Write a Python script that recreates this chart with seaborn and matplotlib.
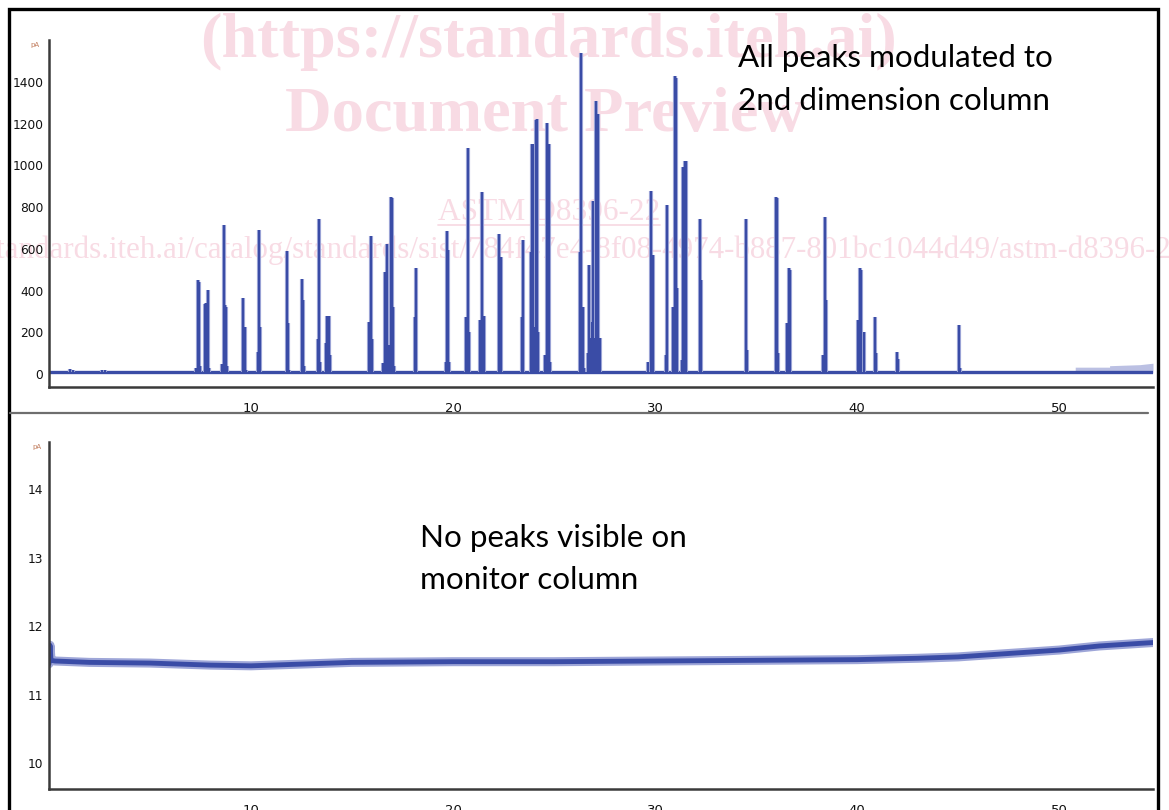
import numpy as np
import pandas as pd
import matplotlib
matplotlib.use("Agg")
import matplotlib.pyplot as plt
import seaborn as sns
from matplotlib.patches import Rectangle
from matplotlib.lines import Line2D
from matplotlib.ticker import MultipleLocator, FixedLocator

# ---------------- data ----------------
# modulated spikes of the upper (2nd dimension) trace: retention time (min), height (pA)
spike_times = [
    1.05, 1.20, 2.60, 2.75,
    7.28, 7.38, 7.43, 7.48,
    7.72, 7.77, 7.87, 7.92,
    8.56, 8.66, 8.71, 8.76, 8.81,
    9.60, 9.70, 9.75,
    10.35, 10.40, 10.45,
    11.78, 11.83, 11.88,
    12.52, 12.57, 12.62,
    13.32, 13.37, 13.42,
    13.71, 13.76, 13.86, 13.91,
    15.84, 15.89, 15.94, 15.99,
    16.53, 16.63, 16.73, 16.78, 16.83,
    16.93, 16.98, 17.03, 17.08,
    18.12, 18.17,
    19.65, 19.70, 19.75, 19.80,
    20.64, 20.72, 20.79,
    21.34, 21.44, 21.49, 21.53,
    22.28, 22.38,
    23.42, 23.47,
    23.86, 23.91, 23.96, 24.06, 24.11, 24.16, 24.21,
    24.55, 24.65, 24.75, 24.80,
    26.29, 26.34, 26.44, 26.49,
    26.68, 26.73, 26.78, 26.83, 26.88, 26.93, 26.98, 27.03, 27.08, 27.13, 27.18, 27.23, 27.28,
    29.65, 29.80, 29.90,
    30.54, 30.59,
    30.89, 30.99, 31.04, 31.09,
    31.34, 31.39, 31.49, 31.54,
    32.23, 32.28,
    34.50, 34.55,
    35.99, 36.04, 36.09,
    36.53, 36.63, 36.68,
    38.32, 38.42, 38.47,
    40.05, 40.15, 40.20, 40.35,
    40.89, 40.94,
    41.98, 42.03,
    45.05, 45.10,
]
spike_heights = [
    22, 20, 18, 18,
    30, 449, 440, 40,
    334, 340, 401, 30,
    50, 716, 330, 320, 40,
    363, 225, 20,
    105, 688, 225,
    588, 244, 20,
    454, 354, 40,
    167, 741, 60,
    148, 277, 277, 90,
    248, 250, 660, 170,
    52, 487, 621, 139, 140,
    850, 845, 320, 40,
    272, 506,
    57, 683, 593, 60,
    272, 1085, 200,
    258, 870, 280, 277,
    669, 559,
    272, 640,
    583, 1104, 1100, 225, 1215, 1223, 200,
    91, 1204, 1104, 60,
    583, 1538, 320, 30,
    100, 520, 172, 172, 248, 831, 172, 172, 1309, 172, 1247, 172, 172,
    57, 879, 568,
    91, 808,
    320, 1428, 1420, 411,
    67, 990, 1022, 1022,
    745, 449,
    745, 115,
    850, 845, 100,
    244, 506, 500,
    91, 750, 354,
    258, 506, 500, 200,
    272, 100,
    105, 70,
    234, 30,
]
top_baseline = 8.0
# noise envelope of the upper baseline
env_x = [0.0, 50.8, 50.8, 52.5, 52.5, 54.0, 54.65]
env_hi = [14, 14, 33, 33, 40, 45, 52]

# lower (monitor column) trace
mon_x = [0.0, 0.05, 0.10, 0.30, 2.0, 5.0, 8.0, 10.0, 12.0, 15.0, 20.0, 25.0,
         30.0, 35.0, 40.0, 43.0, 45.0, 48.0, 50.0, 52.0, 54.65]
mon_y = [11.45, 11.72, 11.50, 11.49, 11.47, 11.46, 11.43, 11.42, 11.44, 11.47, 11.48, 11.48,
         11.49, 11.50, 11.51, 11.53, 11.55, 11.61, 11.65, 11.71, 11.76]

top_yticks = [0, 200, 400, 600, 800, 1000, 1200, 1400]
bot_yticks = [10, 11, 12, 13, 14]
xticks = [10, 20, 30, 40, 50]

# ---------------- style ----------------
W, H = 1169, 810
sns.set_theme(style="white")
plt.rcParams["font.family"] = ["DejaVu Sans"]

fig = plt.figure(figsize=(W / 100, H / 100), dpi=100, facecolor="white")

def px_rect(l, t, r, b):
    return [l / W, 1 - b / H, (r - l) / W, (b - t) / H]

ax1 = fig.add_axes(px_rect(49, 40, 1153, 387))
ax2 = fig.add_axes(px_rect(49, 442, 1153, 789))

DARK = "#3a4ca6"
HALO = "#9ea6d8"
SPINE = "#3a3a3a"

for ax in (ax1, ax2):
    ax.set_facecolor("none")
    for s in ("top", "right"):
        ax.spines[s].set_visible(False)
    for s in ("left", "bottom"):
        ax.spines[s].set_color(SPINE)
        ax.spines[s].set_linewidth(1.8)
    ax.set_xlim(0, 54.65)
    ax.xaxis.set_major_locator(FixedLocator(xticks))
    ax.xaxis.set_minor_locator(MultipleLocator(2))
    ax.tick_params(axis="x", which="major", direction="inout", length=7, width=1.3,
                   color=SPINE, pad=7, labelsize=9.5, labelcolor="#111111")
    ax.tick_params(axis="x", which="minor", direction="out", length=2.5, width=2, color=SPINE)
    ax.tick_params(axis="y", which="major", direction="out", length=2, width=1.2,
                   color="#6a7fc0", pad=2, labelsize=8.8, labelcolor="#111111")

# upper chromatogram
ax1.fill_between(env_x, top_baseline - 3, env_hi, color=HALO, alpha=0.7, lw=0)
sns.lineplot(x=[0, 54.65], y=[top_baseline, top_baseline], ax=ax1, color=DARK, lw=2.4)
ax1.vlines(spike_times, top_baseline, spike_heights, color=HALO, lw=3.0)
ax1.vlines(spike_times, top_baseline, spike_heights, color=DARK, lw=1.5)
ax1.set_ylim(-62, 1600)
ax1.set_yticks(top_yticks)
ax1.set_xlabel("")
ax1.set_ylabel("")

# lower monitor trace
mon = pd.DataFrame({"t": mon_x, "v": mon_y})
sns.lineplot(data=mon, x="t", y="v", ax=ax2, color=HALO, lw=6.5, estimator=None)
sns.lineplot(data=mon, x="t", y="v", ax=ax2, color=DARK, lw=3.5, estimator=None)
ax2.set_ylim(9.62, 14.69)
ax2.set_yticks(bot_yticks)
ax2.set_xlabel("")
ax2.set_ylabel("")

# unit marks at the top of the y axes
fig.text(30 / W, 1 - 47 / H, "pA", fontsize=5, color="#c07a5a", zorder=5)
fig.text(32 / W, 1 - 449 / H, "pA", fontsize=5, color="#c07a5a", zorder=5)

# frame and separator
fig.add_artist(Rectangle((9 / W, -0.1), (1158 - 9) / W, 1.1 - 9 / H, transform=fig.transFigure,
                         fill=False, ec="black", lw=2.4, zorder=10))
fig.add_artist(Line2D([10 / W, 1148 / W], [1 - 413 / H] * 2, color="#6e6e6e", lw=1.6, zorder=10))

# ---------------- watermark (behind the traces) ----------------
PINK = "#f8dbe4"
renderer = fig.canvas.get_renderer()

def fit_text(s, left, baseline, width, **kw):
    t = fig.text(left / W, 1 - baseline / H, s, fontsize=20, ha="left", va="baseline",
                 color=PINK, zorder=-1, **kw)
    w = t.get_window_extent(renderer).width
    t.set_fontsize(20 * width / w)
    return t

serif = ["Liberation Serif", "DejaVu Serif"]
fit_text("(https://standards.iteh.ai)", 200, 57, 695, family=serif, weight="bold")
fit_text("Document Preview", 285, 131, 520, family=serif, weight="bold")
fit_text("ASTM D8396-22", 438, 220, 222, family=serif)
fig.add_artist(Line2D([438 / W, 660 / W], [1 - 225 / H] * 2, color=PINK, lw=1.3, zorder=-1))

url = "https://standards.iteh.ai/catalog/standards/sist/784f47e4-8f08-4974-b887-801bc1044d49/astm-d8396-22"
vis = "tandards.iteh.ai/catalog/standards/sist/784f47e4-8f08-4974-b887-801bc1044d49/astm-d8396-2"
tv = fig.text(0, 0, vis, fontsize=20, family=serif)
wv = tv.get_window_extent(renderer).width
fs_url = 20 * 1175 / wv
tv.remove()
tp = fig.text(0, 0, "https://s", fontsize=fs_url, family=serif)
wp = tp.get_window_extent(renderer).width
tp.remove()
fig.text((-3 - wp) / W, 1 - 258 / H, url, fontsize=fs_url, family=serif, color=PINK,
         ha="left", va="baseline", zorder=-1)

# ---------------- annotations ----------------
ann = dict(fontsize=22.6, family=["Lato", "DejaVu Sans"], color="black", ha="left",
           va="baseline", zorder=6)
fig.text(738 / W, 1 - 67 / H, "All peaks modulated to", **ann)
fig.text(738 / W, 1 - 110 / H, "2nd dimension column", **ann)
fig.text(420 / W, 1 - 547 / H, "No peaks visible on", **ann)
fig.text(420 / W, 1 - 589 / H, "monitor column", **ann)

fig.savefig("out.png", dpi=100, facecolor="white")
